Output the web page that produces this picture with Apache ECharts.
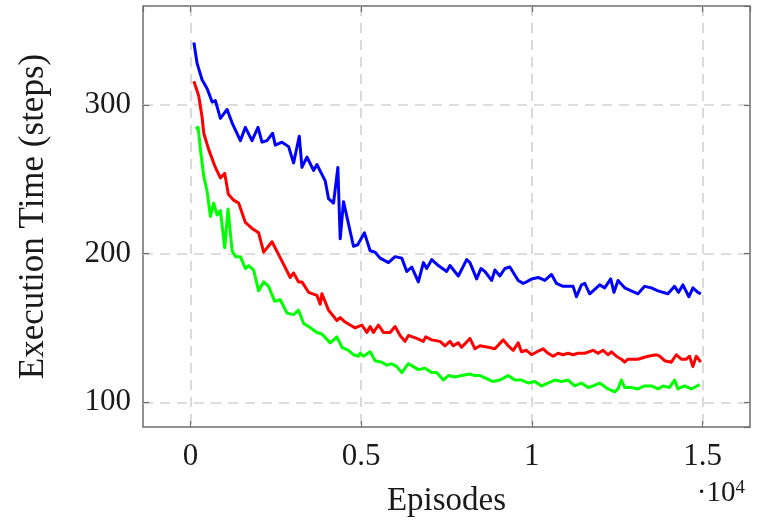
<!DOCTYPE html>
<html>
<head>
<meta charset="utf-8">
<style>
  html, body { margin: 0; padding: 0; background: #fff; }
  #chart { width: 765px; height: 520px; }
</style>
<script src="https://cdn.jsdelivr.net/npm/echarts@6/dist/echarts.min.js"></script>
</head>
<body>
<div id="chart"></div>
<script>
'use strict';

// episodes / execution time
const blueEpisodes = [100, 195, 340, 490, 635, 730, 877, 1073, 1219, 1462, 1608, 1803, 1979, 2096, 2242, 2407, 2485, 2681, 2875, 3021, 3187, 3266, 3412, 3606, 3704, 3947, 4045, 4190, 4318, 4386, 4483, 4629, 4775, 4900, 5097, 5263, 5409, 5556, 5799, 5994, 6190, 6336, 6482, 6676, 6823, 6920, 7067, 7260, 7505, 7602, 7846, 8090, 8187, 8383, 8509, 8626, 8821, 8918, 9064, 9211, 9357, 9600, 9746, 9844, 9991, 10185, 10380, 10576, 10722, 10915, 11208, 11306, 11453, 11550, 11696, 11842, 11988, 12135, 12310, 12406, 12524, 12719, 12914, 13108, 13304, 13500, 13694, 13986, 14181, 14298, 14424, 14600, 14717, 14863, 14950];
const blueSteps = [342, 328, 317, 311, 302, 303, 291, 297, 288, 276, 285, 276, 285, 275, 276, 281, 273, 275, 272, 261, 279, 258, 265, 256, 260, 249, 237, 234, 258, 210, 235, 220, 205, 206, 214, 202, 201, 197, 194, 198, 197, 188, 191, 181, 194, 190, 196, 192, 188, 192, 185, 196, 194, 183, 190, 188, 182, 189, 185, 190, 191, 182, 180, 181, 183, 184, 182, 186, 180, 178, 178, 171, 179, 180, 173, 176, 179, 177, 183, 174, 182, 177, 175, 173, 178, 177, 175, 173, 178, 174, 179, 171, 177, 174, 173];

const redEpisodes = [100, 243, 340, 390, 535, 730, 877, 1004, 1110, 1267, 1413, 1608, 1803, 1997, 2144, 2388, 2681, 2924, 3021, 3167, 3265, 3460, 3704, 3801, 3850, 4045, 4289, 4386, 4532, 4678, 4825, 5020, 5166, 5263, 5360, 5506, 5652, 5848, 5994, 6140, 6287, 6384, 6628, 6823, 6891, 7067, 7310, 7456, 7602, 7700, 7846, 7944, 8187, 8333, 8480, 8723, 8918, 9162, 9308, 9454, 9600, 9697, 9844, 9991, 10234, 10331, 10477, 10623, 10770, 10915, 11062, 11208, 11354, 11550, 11793, 11939, 12085, 12231, 12330, 12476, 12622, 12719, 12816, 13108, 13400, 13646, 13743, 13889, 14085, 14231, 14377, 14523, 14620, 14717, 14815, 14950];
const redSteps = [316, 306, 292, 281, 270, 258, 251, 254, 240, 236, 234, 221, 217, 214, 201, 208, 195, 184, 187, 181, 181, 174, 172, 166, 173, 162, 155, 157, 154, 152, 150, 152, 147, 151, 147, 152, 147, 147, 151, 145, 141, 145, 143, 141, 144, 142, 141, 138, 141, 138, 140, 137, 143, 136, 138, 137, 136, 142, 138, 135, 140, 134, 135, 132, 135, 136, 133, 131, 133, 132, 133, 132, 133, 133, 135, 133, 135, 132, 134, 131, 129, 127, 129, 129, 131, 132, 131, 128, 127, 132, 129, 129, 131, 124, 131, 127];

const greenEpisodes = [150, 225, 292, 390, 488, 585, 681, 780, 877, 1003, 1101, 1219, 1316, 1462, 1608, 1705, 1851, 1997, 2144, 2290, 2466, 2632, 2827, 3021, 3167, 3314, 3460, 3704, 3850, 4094, 4289, 4436, 4629, 4775, 4922, 4971, 5067, 5263, 5409, 5605, 5751, 5897, 6044, 6190, 6383, 6530, 6676, 6871, 7067, 7213, 7407, 7553, 7749, 7944, 8187, 8333, 8480, 8675, 8869, 9064, 9308, 9503, 9697, 9892, 10088, 10283, 10477, 10673, 10868, 11062, 11257, 11453, 11647, 11793, 11988, 12231, 12427, 12524, 12622, 12719, 12914, 13108, 13304, 13500, 13694, 13840, 14035, 14181, 14277, 14474, 14670, 14766, 14912];
const greenSteps = [284, 285, 270, 252, 242, 225, 234, 226, 229, 204, 230, 202, 198, 198, 190, 192, 189, 175, 181, 178, 168, 169, 160, 159, 162, 153, 151, 147, 146, 140, 144, 137, 135, 132, 131, 133, 131, 134, 128, 127, 125, 126, 124, 120, 126, 124, 122, 123, 120, 120, 115, 118, 117, 118, 119, 118, 118, 116, 114, 115, 118, 115, 115, 113, 114, 111, 113, 115, 114, 115, 111, 113, 110, 111, 113, 109, 107, 109, 115, 110, 110, 109, 111, 111, 109, 111, 110, 115, 109, 111, 109, 110, 112];

const FONT = '"Liberation Serif", "Times New Roman", serif';
const TEXT = '#1a1a1a';
const FRAME = '#6e6e6e';
const GRID_LINE = { color: '#d2d2d2', width: 1.6, type: [10, 7] };

function pairs(xs, ys) {
  return xs.map((x, i) => [x, ys[i]]);
}

function fmtX(v) {
  return String(v / 10000);
}

const tickStyle = { show: true, inside: true, length: 6, lineStyle: { color: FRAME, width: 1.2 } };

function xAxis(pos, withLabels) {
  return {
    type: 'value',
    position: pos,
    min: -1390,
    max: 16390,
    splitNumber: 3,
    minInterval: 5000,
    maxInterval: 5000,
    axisLine: { show: false, onZero: false },
    axisTick: tickStyle,
    axisLabel: {
      show: withLabels,
      showMinLabel: false,
      showMaxLabel: false,
      formatter: fmtX,
      fontFamily: FONT,
      fontSize: 31,
      color: TEXT,
      margin: 14,
    },
    splitLine: withLabels
      ? { show: true, showMinLine: false, showMaxLine: false, lineStyle: GRID_LINE }
      : { show: false },
    name: withLabels ? 'Episodes' : '',
    nameLocation: 'middle',
    nameGap: 58,
    nameTextStyle: { fontFamily: FONT, fontSize: 33, color: TEXT },
  };
}

function yAxis(pos, withLabels) {
  return {
    type: 'value',
    position: pos,
    min: 83.4,
    max: 366.6,
    splitNumber: 3,
    minInterval: 100,
    maxInterval: 100,
    axisLine: { show: false, onZero: false },
    axisTick: tickStyle,
    axisLabel: {
      show: withLabels,
      showMinLabel: false,
      showMaxLabel: false,
      fontFamily: FONT,
      fontSize: 31,
      color: TEXT,
      margin: 12,
    },
    splitLine: withLabels
      ? { show: true, showMinLine: false, showMaxLine: false, lineStyle: GRID_LINE }
      : { show: false },
    name: withLabels ? 'Execution Time (steps)' : '',
    nameLocation: 'middle',
    nameRotate: 90,
    nameGap: 92,
    nameTextStyle: { fontFamily: FONT, fontSize: 35, color: TEXT },
  };
}

function line(name, color, data) {
  return {
    name,
    type: 'line',
    xAxisIndex: 0,
    yAxisIndex: 0,
    data,
    showSymbol: false,
    symbol: 'none',
    animation: false,
    lineStyle: { color, width: 3, join: 'round' },
  };
}

const chart = echarts.init(document.getElementById('chart'), null, { renderer: 'canvas' });
chart.setOption({
  backgroundColor: '#fff',
  animation: false,
  grid: {
    left: 143,
    top: 6,
    width: 607,
    height: 421,
    outerBoundsMode: 'none',
    containLabel: false,
    show: true,
    borderColor: FRAME,
    borderWidth: 1.5,
    backgroundColor: 'transparent',
  },
  title: {
    text: '{b|·10}{s|4}',
    right: 15,
    top: 474,
    textStyle: {
      fontWeight: 'normal',
      rich: {
        b: { fontFamily: FONT, fontSize: 29, fontWeight: 'normal', color: TEXT, verticalAlign: 'bottom' },
        s: { fontFamily: FONT, fontSize: 19, fontWeight: 'normal', color: TEXT, verticalAlign: 'top' },
      },
    },
  },
  xAxis: [xAxis('bottom', true), xAxis('top', false)],
  yAxis: [yAxis('left', true), yAxis('right', false)],
  series: [
    line('blue', '#0000ff', pairs(blueEpisodes, blueSteps)),
    line('red', '#ff0000', pairs(redEpisodes, redSteps)),
    line('green', '#00ff00', pairs(greenEpisodes, greenSteps)),
  ],
});
</script>
</body>
</html>
